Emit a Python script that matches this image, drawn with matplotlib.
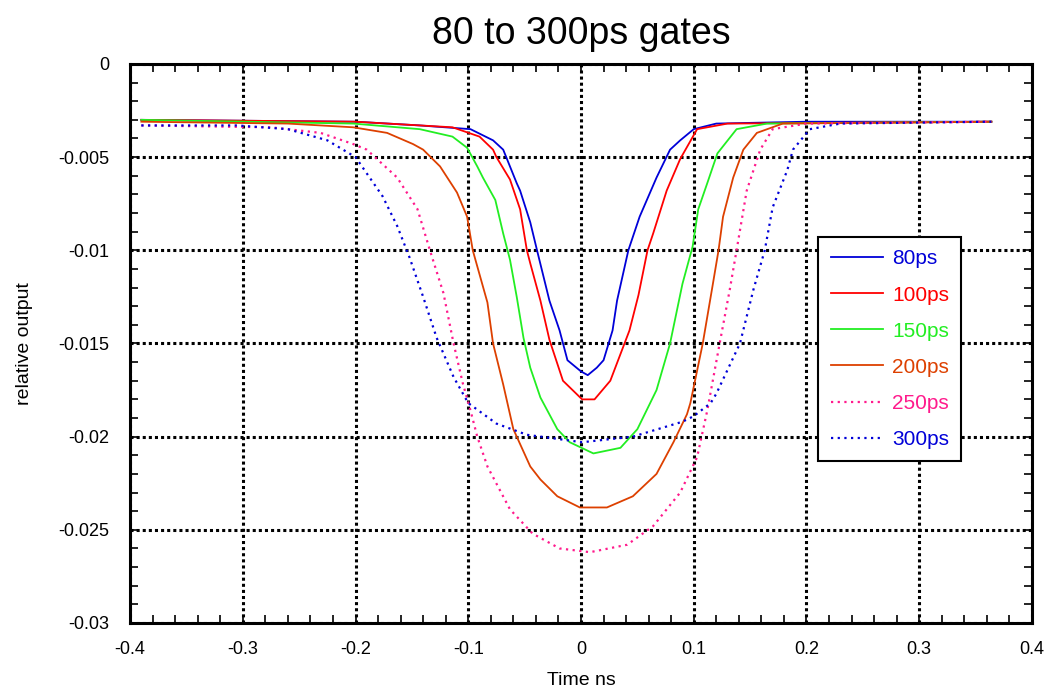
import matplotlib
matplotlib.use("Agg")
from matplotlib import pyplot as plt
from matplotlib.ticker import MultipleLocator, FuncFormatter

plt.rcParams['font.family'] = ['Liberation Sans', 'DejaVu Sans']

# gate width labels, colours, styles
labels = ["80ps", "100ps", "150ps", "200ps", "250ps", "300ps"]
colors = ["#0000d8", "#ff0000", "#22ee22", "#dd4000", "#ff1a8c", "#0000d8"]

# values (time in ns, relative output)
x80 = [-0.39, -0.2, -0.143, -0.098, -0.078, -0.069, -0.057, -0.054, -0.045, -0.039,
       -0.028, -0.019, -0.012, 0.0, 0.006, 0.014, 0.02, 0.028, 0.032, 0.042, 0.052,
       0.067, 0.079, 0.088, 0.1, 0.12, 0.2, 0.364]
y80 = [-0.0030, -0.0031, -0.0033, -0.0035, -0.0041, -0.0046, -0.0064, -0.0068, -0.0085, -0.0100,
       -0.0127, -0.0143, -0.0159, -0.0165, -0.0167, -0.0163, -0.0159, -0.0143, -0.0127, -0.0100, -0.0082,
       -0.0061, -0.0046, -0.0041, -0.0035, -0.0032, -0.0031, -0.0031]

x100 = [-0.39, -0.2, -0.114, -0.09, -0.078, -0.075, -0.063, -0.054, -0.048, -0.045, -0.036,
        -0.028, -0.016, 0.001, 0.012, 0.026, 0.043, 0.051, 0.059, 0.064, 0.076, 0.088,
        0.103, 0.13, 0.364]
y100 = [-0.0030, -0.0031, -0.0034, -0.0039, -0.0046, -0.0050, -0.0062, -0.0078, -0.0100, -0.0107, -0.0127,
        -0.0148, -0.0170, -0.0180, -0.0180, -0.0170, -0.0143, -0.0124, -0.0100, -0.0091, -0.0068, -0.0051,
        -0.0035, -0.0032, -0.0031]

x150 = [-0.39, -0.202, -0.143, -0.114, -0.101, -0.092, -0.087, -0.076, -0.069, -0.063, -0.057,
        -0.051, -0.045, -0.036, -0.021, -0.01, 0.011, 0.035, 0.05, 0.067, 0.079, 0.09,
        0.099, 0.104, 0.112, 0.121, 0.138, 0.165, 0.364]
y150 = [-0.0030, -0.0032, -0.0035, -0.0039, -0.0045, -0.0055, -0.0061, -0.0073, -0.0091, -0.0105, -0.0125,
        -0.0147, -0.0163, -0.0179, -0.0196, -0.0203, -0.0209, -0.0206, -0.0196, -0.0175, -0.0150, -0.0118,
        -0.0098, -0.0078, -0.0064, -0.0048, -0.0035, -0.0032, -0.0031]

x200 = [-0.39, -0.26, -0.202, -0.172, -0.149, -0.14, -0.125, -0.11, -0.101, -0.096, -0.083,
        -0.078, -0.069, -0.06, -0.057, -0.045, -0.036, -0.021, -0.001, 0.023, 0.046, 0.067,
        0.082, 0.094, 0.097, 0.108, 0.117, 0.122, 0.126, 0.135, 0.144, 0.156, 0.179, 0.364]
y200 = [-0.0031, -0.0032, -0.0034, -0.0037, -0.0043, -0.0046, -0.0055, -0.0069, -0.0082, -0.0100, -0.0128,
        -0.0150, -0.0172, -0.0196, -0.0200, -0.0216, -0.0223, -0.0232, -0.0238, -0.0238, -0.0232, -0.0220,
        -0.0203, -0.0188, -0.0182, -0.0150, -0.0118, -0.0100, -0.0082, -0.0061, -0.0046, -0.0037, -0.0032, -0.0031]

x250 = [-0.39, -0.275, -0.231, -0.202, -0.19, -0.163, -0.145, -0.134, -0.122, -0.113, -0.105,
        -0.098, -0.092, -0.083, -0.063, -0.043, -0.019, 0.008, 0.041, 0.064, 0.088, 0.103,
        0.112, 0.123, 0.132, 0.138, 0.147, 0.159, 0.17, 0.2, 0.364]
y250 = [-0.0033, -0.0034, -0.0037, -0.0043, -0.0046, -0.0061, -0.0078, -0.0100, -0.0123, -0.0150, -0.0171,
        -0.0186, -0.0200, -0.0216, -0.0239, -0.0252, -0.0260, -0.0262, -0.0258, -0.0248, -0.0230, -0.0211,
        -0.0186, -0.0150, -0.0121, -0.0100, -0.0068, -0.0046, -0.0035, -0.0032, -0.0031]

x300 = [-0.39, -0.305, -0.26, -0.225, -0.2, -0.176, -0.163, -0.152, -0.14, -0.128, -0.113,
        -0.1, -0.075, -0.048, 0.001, 0.046, 0.09, 0.1, 0.115, 0.12, 0.141, 0.153,
        0.163, 0.17, 0.183, 0.188, 0.203, 0.23, 0.364]
y300 = [-0.0033, -0.0033, -0.0035, -0.0041, -0.0050, -0.0071, -0.0087, -0.0104, -0.0125, -0.0147, -0.0168,
        -0.0182, -0.0193, -0.0199, -0.0203, -0.0200, -0.0192, -0.0189, -0.0182, -0.0177, -0.0150, -0.0121,
        -0.0100, -0.0077, -0.0057, -0.0046, -0.0035, -0.0032, -0.0031]


def main():
    xs = [x80, x100, x150, x200, x250, x300]
    ys = [y80, y100, y150, y200, y250, y300]
    styles = ["-", "-", "-", "-", (0, (1, 2)), (0, (1, 2))]
    widths = [1.3, 1.3, 1.3, 1.3, 1.6, 1.6]

    fig = plt.figure(figsize=(10.53, 6.95), dpi=100)
    ax = fig.add_axes([0.1235, 0.1036, 0.8565, 0.8044])

    for i in range(len(xs)):
        ax.plot(xs[i], ys[i], color=colors[i], linestyle=styles[i], linewidth=widths[i],
                label=labels[i], zorder=3)

    ax.set_xlim(-0.4, 0.4)
    ax.set_ylim(-0.03, 0)
    ax.xaxis.set_major_locator(MultipleLocator(0.1))
    ax.xaxis.set_minor_locator(MultipleLocator(0.02))
    ax.yaxis.set_major_locator(MultipleLocator(0.005))
    ax.yaxis.set_minor_locator(MultipleLocator(0.001))
    fmt = FuncFormatter(lambda v, p: "%g" % (round(v, 4) + 0.0))
    ax.xaxis.set_major_formatter(fmt)
    ax.yaxis.set_major_formatter(fmt)
    ax.tick_params(which="both", direction="in", top=True, right=True, width=1.2)
    ax.tick_params(which="major", length=6, labelsize=13)
    ax.tick_params(which="minor", length=6)
    ax.tick_params(axis="x", which="major", pad=13)
    ax.tick_params(axis="y", which="major", pad=15)
    for s in ax.spines.values():
        s.set_linewidth(2.2)

    ax.grid(True, which="major", color="black", linestyle=(0, (1, 1)), linewidth=2.2, zorder=1)

    ax.set_title("80 to 300ps gates", fontsize=27, pad=14)
    ax.set_xlabel("Time ns", fontsize=14, labelpad=10)
    ax.set_ylabel("relative output", fontsize=14, labelpad=18)

    leg = ax.legend(loc="upper left", bbox_to_anchor=(0.7628, 0.6905), fontsize=15,
                    frameon=True, fancybox=False, framealpha=1, edgecolor="black",
                    handlelength=2.5, handletextpad=0.45, labelspacing=0.82,
                    borderpad=0.6, borderaxespad=0)
    leg.get_frame().set_linewidth(1.5)
    for t, c in zip(leg.get_texts(), colors):
        t.set_color(c)

    plt.savefig("out.png", dpi=100)


if __name__ == "__main__":
    main()
